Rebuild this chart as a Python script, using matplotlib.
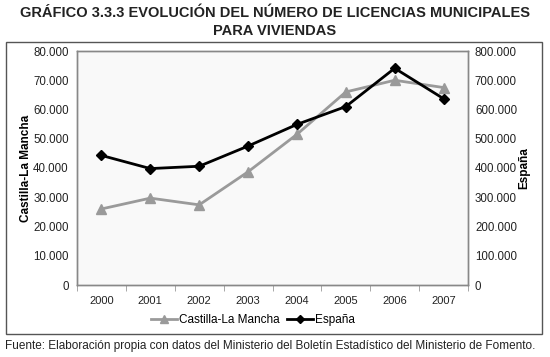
import matplotlib
matplotlib.use("Agg")
import matplotlib.pyplot as plt
from matplotlib.patches import Rectangle
from matplotlib.ticker import FuncFormatter, FixedLocator

years = ["2000", "2001", "2002", "2003", "2004", "2005", "2006", "2007"]
clm = [26000, 29700, 27400, 38700, 51500, 66000, 70000, 67500]
espana = [443000, 398000, 406000, 475000, 549000, 610000, 741000, 637000]

left_ticks = [0, 10000, 20000, 30000, 40000, 50000, 60000, 70000, 80000]
right_ticks = [0, 100000, 200000, 300000, 400000, 500000, 600000, 700000, 800000]

plt.rcParams['font.family'] = ['Liberation Sans', 'DejaVu Sans']

fig = plt.figure(figsize=(5.5, 3.57), dpi=100)
W, H = 550, 357
ax = fig.add_axes([77 / W, 1 - 285 / H, (468 - 77) / W, (285 - 51) / H])
ax2 = ax.twinx()

fmt = FuncFormatter(lambda v, p: f"{int(v):,}".replace(",", "."))

x = list(range(len(years)))
ax.set_facecolor("#f9f9f9")
l1, = ax.plot(x, clm, color="#9a9a9a", lw=2, marker="^", ms=7, label="Castilla-La Mancha")
l2, = ax2.plot(x, espana, color="black", lw=2, marker="D", ms=5.5, label="España")

ax.set_xlim(-0.5, len(years) - 0.5)
ax.set_ylim(0, 80000)
ax2.set_ylim(0, 800000)
ax.yaxis.set_major_locator(FixedLocator(left_ticks))
ax2.yaxis.set_major_locator(FixedLocator(right_ticks))
ax.yaxis.set_major_formatter(fmt)
ax2.yaxis.set_major_formatter(fmt)
ax.set_xticks(x)
ax.set_xticklabels(years)
ax.set_xticks([i + 0.5 for i in range(-1, len(years))], minor=True)
ax.tick_params(axis="x", which="major", length=0, pad=8, labelsize=8, labelcolor="#222222")
ax.tick_params(axis="x", which="minor", length=4, color="#999999", direction="out")
ax.tick_params(axis="y", length=0, labelsize=8.3, labelcolor="#222222", pad=6)
ax2.tick_params(axis="y", length=0, labelsize=8.3, labelcolor="#222222", pad=5)

for a in (ax, ax2):
    for s in a.spines.values():
        s.set_color("#888888")
        s.set_linewidth(1)

ax.set_ylabel("Castilla-La Mancha", fontsize=8.5, fontweight="bold")
ax2.set_ylabel("España", fontsize=8.5, fontweight="bold")
ax.yaxis.set_label_coords((32 - 77) / 391, 0.5)
ax2.yaxis.set_label_coords((518 - 77) / 391, 0.5)

fig.text(0.5, 1 - 13 / H, "GRÁFICO 3.3.3 EVOLUCIÓN DEL NÚMERO DE LICENCIAS MUNICIPALES",
         ha="center", va="center", fontsize=10.5, fontweight="bold", color="#222222")
fig.text(0.5, 1 - 31 / H, "PARA VIVIENDAS",
         ha="center", va="center", fontsize=10.5, fontweight="bold", color="#222222")

fig.patches.append(Rectangle((6 / W, 1 - 334 / H), (542 - 6) / W, (334 - 42) / H,
                             transform=fig.transFigure, fill=False,
                             edgecolor="#555555", lw=1))

leg = fig.legend(handles=[l1, l2], loc="center", bbox_to_anchor=(253 / W, 1 - 320 / H),
                 ncol=2, frameon=False, fontsize=8.5, handlelength=2.2,
                 handletextpad=0.2, columnspacing=0.6, markerscale=0.8)

fig.text(5 / W, 1 - 346 / H,
         "Fuente: Elaboración propia con datos del Ministerio del Boletín Estadístico del Ministerio de Fomento.",
         ha="left", va="center", fontsize=8.5, color="#222222")

fig.savefig("out.png", dpi=100)
